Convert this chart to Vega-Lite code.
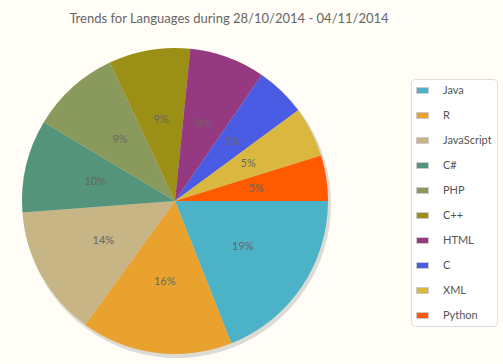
{
  "$schema": "https://vega.github.io/schema/vega-lite/v6.json",
  "autosize": {"type": "none"},
  "width": 350,
  "height": 330,
  "padding": {"top": 36, "left": 0, "right": 153, "bottom": 0},
  "background": "#FFFDF6",
  "title": {
    "text": "Trends for Languages during 28/10/2014 - 04/11/2014",
    "font": "Lato",
    "fontSize": 13,
    "fontWeight": "normal",
    "color": "#666666",
    "anchor": "middle",
    "dx": 54,
    "offset": 10
  },
  "config": {"view": {"stroke": null}},
  "data": {
    "values": [
      {"i": 1, "lang": "Java", "pct": 0.19},
      {"i": 2, "lang": "R", "pct": 0.16},
      {"i": 3, "lang": "JavaScript", "pct": 0.138},
      {"i": 4, "lang": "C#", "pct": 0.098},
      {"i": 5, "lang": "PHP", "pct": 0.094},
      {"i": 6, "lang": "C++", "pct": 0.086},
      {"i": 7, "lang": "HTML", "pct": 0.08},
      {"i": 8, "lang": "C", "pct": 0.053},
      {"i": 9, "lang": "XML", "pct": 0.053},
      {"i": 10, "lang": "Python", "pct": 0.048}
    ]
  },
  "encoding": {
    "theta": {"field": "pct", "type": "quantitative", "stack": true, "scale": {"range": [1.5708, 7.854]}},
    "order": {"field": "i", "type": "quantitative"}
  },
  "layer": [
    {
      "mark": {"type": "arc", "outerRadius": 154, "xOffset": 2, "yOffset": 3, "opacity": 0.25, "color": "#777777"}
    },
    {
      "mark": {"type": "arc", "outerRadius": 153},
      "encoding": {
        "color": {
          "field": "lang",
          "type": "nominal",
          "sort": null,
          "scale": {
            "domain": ["Java", "R", "JavaScript", "C#", "PHP", "C++", "HTML", "C", "XML", "Python"],
            "range": ["#4CB2C7", "#E9A22E", "#C8B586", "#54947A", "#8A9A5C", "#9C8F15", "#953A80", "#4B5CE4", "#DAB83F", "#FF5A00"]
          },
          "legend": {
            "title": null,
            "orient": "none",
            "legendX": 411,
            "legendY": 43,
            "padding": 5,
            "rowPadding": 13,
            "strokeColor": "#DDDDDD",
            "fillColor": "#FFFFFF",
            "cornerRadius": 4,
            "symbolType": "M-1,-0.5H1V0.5H-1Z",
            "symbolSize": 144,
            "symbolStrokeColor": "#CCCCCC",
            "symbolStrokeWidth": 1,
            "symbolOpacity": 1,
            "labelFont": "Lato",
            "labelFontSize": 11,
            "labelColor": "#555555",
            "labelOffset": 14
          }
        }
      }
    },
    {
      "mark": {"type": "text", "radius": 82, "font": "Lato", "fontSize": 11, "color": "#666666"},
      "encoding": {"text": {"field": "pct", "type": "quantitative", "format": ".0%"}}
    }
  ]
}
